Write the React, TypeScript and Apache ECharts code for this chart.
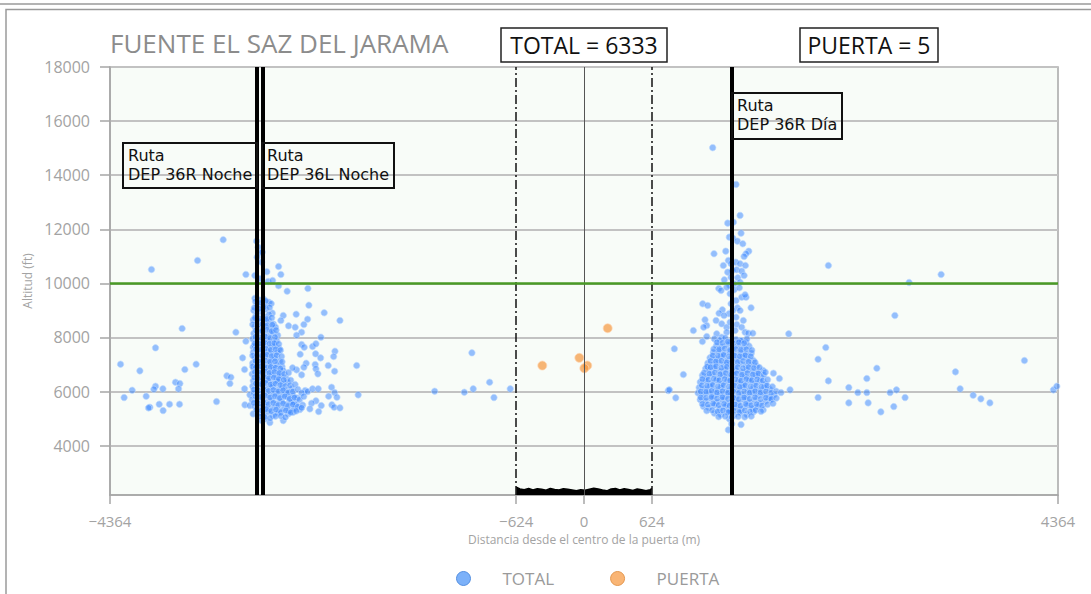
import React, { useEffect, useRef } from "react";
import * as echarts from "echarts";

// ---------- axes ----------
const X_MIN = -4364;
const X_MAX = 4364;
const X_TICKS = [-4364, -624, 0, 624, 4364];
const Y_MIN = 2176;
const Y_MAX = 18000;
const Y_TICKS = [4000, 6000, 8000, 10000, 12000, 14000, 16000, 18000];

// ---------- reference lines ----------
const ROUTES_X = [-3012, -2961, 1363];
const GATE_LIMITS = [-624, 624];
const GATE_CENTER = 0;
const ALT_LIMIT = 10000;

const TOTAL_COUNT = 6333;
const PUERTA_COUNT = 5;

// ---------- gate ground band (distance m, altitude ft) ----------
const BAND_X = [-624, -590, -550, -510, -470, -430, -390, -350, -310, -270, -230, -190, -150, -110, -70, -30, 10, 50, 90, 130, 170, 210, 250, 290, 330, 370, 410, 450, 490, 530, 570, 610, 624];
const BAND_Y = [2470, 2400, 2370, 2420, 2360, 2410, 2390, 2350, 2420, 2380, 2360, 2410, 2385, 2360, 2330, 2370, 2350, 2390, 2430, 2400, 2360, 2330, 2400, 2420, 2360, 2410, 2380, 2340, 2400, 2370, 2330, 2370, 2420];

// ---------- TOTAL points ----------
const LEFT_SPARSE: [number, number][] = [
  [-3322, 11613], [-3558, 10847], [-3982, 10514], [-3113, 10329], [-3700, 8331], [-3205, 8194],
  [-3945, 7617], [-3113, 7861], [-4267, 7010], [-4089, 6766], [-3675, 6814], [-3571, 7010],
  [-3143, 7247], [-3125, 6814], [-3288, 6581], [-3251, 6529], [-3260, 6296], [-3761, 6344],
  [-3721, 6296], [-3945, 6196], [-3960, 6085], [-3877, 6100], [-3733, 6100], [-4160, 6048],
  [-3125, 6100], [-4234, 5778], [-4031, 5826], [-3997, 5419], [-4009, 5397], [-3911, 5530],
  [-3816, 5530], [-3724, 5530], [-3875, 5297], [-3383, 5630], [-3122, 5508], [-3076, 5482],
  [-3076, 5878],
];

const LEFT_CLUSTER: [number, number][] = [
  [-3014, 11561], [-3000, 11339], [-2984, 11132], [-2963, 11154], [-3009, 10969], [-2968, 10784],
  [-2812, 10625], [-2920, 10429], [-2791, 10329], [-3030, 10292], [-2984, 10170], [-2908, 10070],
  [-2867, 10107], [-2812, 9911], [-2733, 9711], [-2542, 9811], [-2533, 9193], [-2392, 8912],
  [-2247, 8627], [-2650, 8860], [-2769, 8812], [-2791, 8627], [-2720, 8431], [-2659, 8379],
  [-2545, 8675], [-2579, 8479], [-2600, 8194], [-2646, 8083], [-2422, 8009], [-3046, 7639],
  [-2600, 7739], [-2576, 7639], [-2499, 7665], [-2468, 7765], [-2613, 7380], [-2471, 7395],
  [-2425, 7247], [-2293, 7491], [-2305, 7295], [-2355, 6962], [-2475, 6999], [-2558, 7047],
  [-2579, 6899], [-2646, 6803], [-2683, 6877], [-2600, 6618], [-2468, 6840], [-2450, 6655],
  [-2296, 6751], [-2093, 6962], [-2567, 6037], [-2545, 6000], [-2499, 6100], [-2447, 6100],
  [-2324, 6159], [-2296, 5963], [-2275, 5789], [-2351, 5826], [-2079, 5878], [-2468, 5656],
  [-2508, 5567], [-2419, 5482], [-2321, 5508], [-2300, 5419], [-2247, 5397], [-2443, 5260],
  [-2524, 5360], [-2616, 5334], [-2671, 5604], [-2677, 5234], [-2723, 5175], [-2769, 4927],
  [-2892, 4853], [-2938, 4990], [-2968, 4927], [-3046, 5175],
];

const LEFT_CORE_A: [number, number][] = [
  [-3030, 9450], [-2990, 9380], [-2950, 9420], [-2900, 9300], [-3010, 9200], [-2960, 9150],
  [-2880, 9250], [-3040, 9000], [-2985, 8950], [-2930, 9050], [-2870, 8900], [-3020, 8800],
  [-2945, 8760], [-2900, 8850], [-3045, 8650], [-2995, 8600], [-2950, 8550], [-2905, 8640],
  [-2860, 8500], [-3030, 8400], [-2980, 8350], [-2935, 8420], [-2890, 8300], [-2840, 8380],
  [-3040, 8150], [-2990, 8200], [-2950, 8100], [-2905, 8050], [-2860, 8180], [-2820, 8080],
  [-3050, 7950], [-3005, 7900], [-2960, 7850], [-2915, 7920], [-2870, 7800], [-2830, 7880],
  [-3035, 7700], [-2985, 7650], [-2940, 7720], [-2895, 7600], [-2850, 7680], [-2805, 7580],
  [-3045, 7450], [-3000, 7500], [-2955, 7400], [-2910, 7480], [-2865, 7380], [-2820, 7450],
  [-3030, 7250], [-2980, 7200], [-2935, 7300], [-2890, 7150], [-2845, 7230], [-2800, 7120],
  [-3050, 7050], [-3005, 7000], [-2960, 7080], [-2915, 6980], [-2870, 6950], [-2825, 7000],
  [-2780, 6920], [-3040, 6850], [-2995, 6800], [-2950, 6870], [-2905, 6750], [-2860, 6820],
  [-2815, 6700], [-2770, 6780], [-3055, 6650], [-3010, 6600], [-2965, 6680], [-2920, 6550],
  [-2875, 6620], [-2830, 6500], [-2785, 6580], [-2740, 6480], [-3045, 6400], [-3000, 6450],
  [-2955, 6350], [-2910, 6420], [-2865, 6300], [-2820, 6380], [-2775, 6280], [-2730, 6350],
  [-3050, 6200], [-3005, 6150], [-2960, 6250], [-2915, 6100], [-2870, 6180], [-2825, 6050],
  [-2780, 6130], [-2735, 6020], [-2690, 6100], [-3040, 5950], [-2995, 5900], [-2950, 5980],
  [-2905, 5850], [-2860, 5920], [-2815, 5800], [-2770, 5880], [-2725, 5780], [-2680, 5850],
  [-2640, 5760], [-3055, 5700], [-3010, 5650], [-2965, 5720], [-2920, 5600], [-2875, 5680],
  [-2830, 5550], [-2785, 5630], [-2740, 5520], [-2695, 5600], [-2650, 5500], [-3030, 5450],
  [-2985, 5400], [-2940, 5480], [-2895, 5350], [-2850, 5420], [-2805, 5300], [-2760, 5380],
  [-2715, 5280], [-2670, 5350], [-3000, 5200], [-2955, 5150], [-2910, 5250], [-2865, 5120],
  [-2820, 5200],
];

const LEFT_CORE_B: [number, number][] = [
  [-3025, 9330], [-2975, 9280], [-2930, 9350], [-3035, 9100], [-2990, 9060], [-2940, 9130],
  [-2895, 9110], [-3030, 8720], [-2985, 8700], [-2920, 8680], [-2875, 8730], [-3050, 8480],
  [-3005, 8460], [-2960, 8490], [-2915, 8450], [-2870, 8470], [-3020, 8260], [-2965, 8240],
  [-2920, 8280], [-2875, 8230], [-2835, 8270], [-3025, 8020], [-2980, 7990], [-2935, 8030],
  [-2890, 7980], [-2845, 8010], [-3030, 7780], [-2985, 7760], [-2940, 7800], [-2895, 7770],
  [-2850, 7790], [-2810, 7760], [-3020, 7570], [-2975, 7550], [-2930, 7580], [-2885, 7540],
  [-2840, 7560], [-2795, 7530], [-3050, 7330], [-3010, 7350], [-2965, 7320], [-2920, 7360],
  [-2875, 7310], [-2830, 7340], [-2785, 7300], [-3025, 7130], [-2980, 7110], [-2935, 7150],
  [-2890, 7100], [-2845, 7120], [-2780, 7100], [-3050, 6930], [-3020, 6900], [-2975, 6930],
  [-2930, 6890], [-2885, 6910], [-2840, 6880], [-2795, 6850], [-3030, 6720], [-2985, 6700],
  [-2940, 6740], [-2895, 6690], [-2850, 6720], [-2805, 6680], [-2760, 6650], [-2720, 6700],
  [-3035, 6520], [-2990, 6500], [-2945, 6540], [-2900, 6490], [-2855, 6520], [-2810, 6460],
  [-2765, 6430], [-2700, 6420], [-3020, 6300], [-2975, 6280], [-2930, 6320], [-2885, 6260],
  [-2840, 6290], [-2795, 6240], [-2750, 6200], [-2705, 6230], [-2660, 6260], [-3040, 6070],
  [-2995, 6040], [-2950, 6080], [-2905, 6020], [-2860, 6060], [-2815, 6000], [-2770, 6050],
  [-2725, 5960], [-2680, 6000], [-2635, 6080], [-2600, 5950], [-3025, 5830], [-2980, 5800],
  [-2935, 5850], [-2890, 5780], [-2845, 5830], [-2800, 5760], [-2755, 5820], [-2710, 5730],
  [-2665, 5780], [-2620, 5700], [-2580, 5820], [-3040, 5580], [-2995, 5560], [-2950, 5600],
  [-2905, 5530], [-2860, 5580], [-2815, 5500], [-2770, 5560], [-2725, 5470], [-2680, 5520],
  [-2635, 5440], [-2590, 5500], [-3015, 5330], [-2970, 5300], [-2925, 5350], [-2880, 5280],
  [-2835, 5330], [-2790, 5240], [-2745, 5300], [-2700, 5230], [-2650, 5280], [-2600, 5400],
  [-2990, 5080], [-2940, 5060], [-2890, 5020], [-2840, 5090], [-2790, 5100], [-2750, 5050],
];

const MID_SPARSE: [number, number][] = [
  [-1032, 7432], [-1375, 6011], [-1102, 5974], [-1020, 6100], [-869, 6344], [-829, 5778],
  [-679, 6100], [776, 6037], [786, 6063], [832, 7580], [845, 5767], [915, 6629],
];

const RIGHT_CLUSTER: [number, number][] = [
  [1185, 15017], [1400, 13659], [1437, 12512], [1323, 12227], [1375, 12264], [1338, 11709],
  [1370, 11672], [1446, 11857], [1412, 11561], [1462, 11465], [1197, 11095], [1305, 11191],
  [1517, 11191], [1492, 11095], [1474, 10995], [1329, 10847], [1283, 10662], [1354, 10725],
  [1397, 10784], [1437, 10725], [1486, 10662], [1366, 10477], [1406, 10503], [1452, 10451],
  [1323, 10414], [1292, 10133], [1354, 10229], [1416, 10207], [1474, 10292], [1437, 10044],
  [1382, 9985], [1342, 9922], [1241, 9811], [1262, 9737], [1314, 9859], [1382, 9763],
  [1430, 9837], [1452, 9489], [1492, 9489], [1483, 9578], [1345, 9615], [1400, 9367],
  [1354, 9245], [1412, 9097], [1370, 8997], [1437, 8997], [1335, 8875], [1400, 8749],
  [1538, 9097], [1274, 9023], [1243, 8897], [1289, 8812], [1114, 8653], [1130, 8442],
  [1102, 8379], [1216, 8627], [1268, 8505], [1314, 8379], [1345, 8564], [1406, 8479],
  [1452, 8379], [1391, 8257], [1467, 8627], [1007, 8257], [1090, 7850], [1130, 8035],
  [1222, 8135], [1268, 8009], [1314, 8194], [1483, 8194], [1513, 8157], [1554, 8157],
  [1437, 7887], [1492, 7824], [1093, 9245], [1139, 9182],
];

const RIGHT_CORE_A: [number, number][] = [
  [1200, 7950], [1250, 7900], [1300, 7980], [1350, 7850], [1400, 7920], [1450, 7880],
  [1500, 7950], [1220, 7700], [1270, 7650], [1320, 7750], [1370, 7600], [1420, 7700],
  [1470, 7620], [1520, 7680], [1190, 7450], [1240, 7500], [1290, 7400], [1340, 7480],
  [1390, 7350], [1440, 7450], [1490, 7380], [1540, 7420], [1160, 7250], [1210, 7200],
  [1260, 7300], [1310, 7150], [1360, 7250], [1410, 7180], [1460, 7280], [1510, 7200],
  [1560, 7150], [1140, 7050], [1190, 7000], [1240, 7080], [1290, 6980], [1340, 7020],
  [1390, 6950], [1440, 7030], [1490, 6970], [1540, 7000], [1590, 6940], [1120, 6850],
  [1150, 6800], [1200, 6870], [1250, 6750], [1300, 6820], [1350, 6700], [1400, 6780],
  [1450, 6720], [1500, 6800], [1550, 6750], [1600, 6700], [1650, 6780], [1090, 6600],
  [1130, 6550], [1180, 6650], [1230, 6500], [1280, 6600], [1330, 6520], [1380, 6620],
  [1430, 6480], [1480, 6560], [1530, 6500], [1580, 6600], [1630, 6520], [1070, 6350],
  [1120, 6400], [1170, 6300], [1220, 6420], [1270, 6280], [1320, 6380], [1370, 6250],
  [1420, 6350], [1470, 6270], [1520, 6400], [1570, 6300], [1620, 6380], [1670, 6270],
  [1060, 6150], [1110, 6100], [1160, 6200], [1210, 6050], [1260, 6150], [1310, 6020],
  [1360, 6120], [1410, 6060], [1460, 6180], [1510, 6040], [1560, 6130], [1610, 6050],
  [1660, 6150], [1710, 6080], [1050, 5950], [1100, 5900], [1150, 5980], [1200, 5850],
  [1250, 5920], [1300, 5800], [1350, 5880], [1400, 5780], [1450, 5900], [1500, 5820],
  [1550, 5950], [1600, 5850], [1650, 5900], [1700, 5800], [1750, 5880], [1070, 5700],
  [1120, 5650], [1170, 5750], [1220, 5600], [1270, 5700], [1320, 5550], [1370, 5650],
  [1420, 5580], [1470, 5700], [1520, 5600], [1570, 5680], [1620, 5560], [1670, 5640],
  [1720, 5700], [1100, 5450], [1150, 5400], [1200, 5500], [1250, 5350], [1300, 5450],
  [1350, 5300], [1400, 5420], [1450, 5350], [1500, 5480], [1550, 5380], [1600, 5450],
  [1650, 5320], [1200, 5200], [1260, 5150], [1320, 5250], [1380, 5120], [1440, 5220],
  [1500, 5150], [1560, 5250], [1338, 4990], [1360, 4804], [1329, 4583], [1446, 4779],
];

const RIGHT_CORE_B: [number, number][] = [
  [1225, 7820], [1275, 7800], [1325, 7840], [1375, 7780], [1425, 7820], [1475, 7790],
  [1195, 7570], [1245, 7560], [1295, 7590], [1345, 7540], [1395, 7570], [1445, 7540],
  [1495, 7560], [1545, 7530], [1185, 7330], [1235, 7320], [1285, 7350], [1335, 7300],
  [1385, 7330], [1435, 7300], [1485, 7340], [1535, 7300], [1165, 7130], [1215, 7110],
  [1265, 7140], [1315, 7080], [1365, 7120], [1415, 7090], [1465, 7130], [1515, 7100],
  [1575, 7080], [1135, 6920], [1165, 6900], [1215, 6930], [1265, 6880], [1315, 6910],
  [1365, 6870], [1415, 6900], [1465, 6860], [1515, 6900], [1565, 6870], [1615, 6890],
  [1105, 6690], [1155, 6660], [1205, 6700], [1255, 6640], [1305, 6680], [1355, 6620],
  [1405, 6670], [1455, 6620], [1505, 6680], [1555, 6630], [1605, 6670], [1655, 6620],
  [1090, 6460], [1145, 6440], [1195, 6470], [1245, 6420], [1295, 6460], [1345, 6410],
  [1395, 6450], [1445, 6400], [1495, 6460], [1545, 6420], [1595, 6450], [1645, 6410],
  [1690, 6440], [1085, 6230], [1135, 6210], [1185, 6240], [1235, 6190], [1285, 6230],
  [1335, 6180], [1385, 6220], [1435, 6170], [1485, 6230], [1535, 6190], [1585, 6220],
  [1635, 6180], [1685, 6220], [1735, 6180], [1075, 6000], [1125, 5990], [1175, 6020],
  [1225, 5970], [1275, 6010], [1325, 5960], [1375, 6000], [1425, 5950], [1475, 6000],
  [1525, 5960], [1575, 6010], [1625, 5970], [1675, 6000], [1725, 5960], [1770, 6010],
  [1075, 5780], [1125, 5770], [1175, 5800], [1225, 5740], [1275, 5790], [1325, 5730],
  [1375, 5770], [1425, 5720], [1475, 5780], [1525, 5730], [1575, 5790], [1625, 5720],
  [1675, 5770], [1725, 5730], [1770, 5760], [1090, 5540], [1140, 5520], [1190, 5560],
  [1240, 5500], [1290, 5540], [1340, 5480], [1390, 5520], [1440, 5470], [1490, 5540],
  [1540, 5490], [1590, 5530], [1640, 5480], [1690, 5520], [1740, 5560], [1130, 5290],
  [1180, 5310], [1230, 5260], [1280, 5300], [1330, 5240], [1380, 5290], [1430, 5250],
  [1480, 5300], [1530, 5260], [1580, 5310], [1630, 5270], [1240, 5070], [1300, 5090],
  [1360, 5050], [1420, 5080], [1480, 5060], [1540, 5090],
];

const RIGHT_SPARSE: [number, number][] = [
  [2250, 10662], [3288, 10329], [2993, 10033], [2862, 8812], [1885, 8135], [2226, 7628],
  [2155, 7196], [2696, 6862], [3420, 6729], [4055, 7147], [2250, 6395], [2604, 6481],
  [1799, 6481], [1744, 6677], [1670, 6714], [1897, 6063], [1814, 5963], [2438, 6148],
  [2521, 5963], [2604, 5963], [2818, 5963], [2877, 6063], [3463, 6100], [2155, 5778],
  [2438, 5582], [2616, 5582], [2956, 5778], [2852, 5445], [2733, 5249], [3583, 5863],
  [3654, 5730], [3737, 5582], [4322, 6063], [4353, 6196],
];

const TOTAL = [
  ...LEFT_SPARSE, ...LEFT_CLUSTER, ...LEFT_CORE_A, ...LEFT_CORE_B, ...MID_SPARSE,
  ...RIGHT_CLUSTER, ...RIGHT_CORE_A, ...RIGHT_CORE_B, ...RIGHT_SPARSE,
];

// ---------- PUERTA points ----------
const PUERTA: [number, number][] = [
  [218, 8342], [-384, 6962], [-43, 7247], [30, 6962], [3, 6862],
];

const GRAY = "#a3a3a3";
const LABEL_FONT = "Open Sans";
const ANNOT_FONT = "DejaVu Sans";

const fmtX = (v: number) => (v < 0 ? "\u2212" + Math.abs(v) : String(v));

function annotation(x: number, y: number, w: number, h: number, text: string) {
  return [
    {
      type: "rect",
      shape: { x, y, width: w, height: h },
      style: { fill: "none", stroke: "#111", lineWidth: 2 },
      z: 100,
    },
    {
      type: "text",
      x: x + 5,
      y: y + 3,
      style: {
        text,
        fontFamily: ANNOT_FONT,
        fontSize: 16,
        lineHeight: 19,
        fill: "#111",
        verticalAlign: "top",
      },
      z: 101,
    },
  ];
}

export default function App() {
  const ref = useRef<HTMLDivElement>(null);

  useEffect(() => {
    if (!ref.current) return;
    const chart = echarts.init(ref.current, null, { renderer: "svg" });

    const routeLines = ROUTES_X.map((x) => ({
      xAxis: x,
      lineStyle: { color: "#000", width: 4, type: "solid" },
    }));
    const gateLines = GATE_LIMITS.map((x) => ({
      xAxis: x,
      lineStyle: { color: "#111", width: 1.5, type: [9, 3, 2, 3] },
    }));

    const option: any = {
      animation: false,
      backgroundColor: "#ffffff",
      grid: {
        left: 110,
        right: 33,
        top: 67,
        bottom: 99,
        show: true,
        backgroundColor: "#f8fcf8",
        borderColor: "#a6a6a6",
        borderWidth: 1.5,
      },
      xAxis: {
        type: "value",
        min: X_MIN,
        max: X_MAX,
        name: "Distancia desde el centro de la puerta (m)",
        nameLocation: "middle",
        nameGap: 38,
        nameTextStyle: { color: GRAY, fontSize: 12, fontFamily: LABEL_FONT },
        axisLine: { show: true, onZero: false, lineStyle: { color: "#a6a6a6", width: 1.5 } },
        axisTick: { show: true, length: 9, customValues: X_TICKS, lineStyle: { color: "#a6a6a6", width: 1.5 } },
        axisLabel: {
          customValues: X_TICKS,
          formatter: fmtX,
          color: GRAY,
          fontSize: 15,
          fontFamily: LABEL_FONT,
          margin: 18,
        },
        splitLine: { show: false },
      },
      yAxis: {
        type: "value",
        min: Y_MIN,
        max: Y_MAX,
        name: "Altitud (ft)",
        nameLocation: "middle",
        nameGap: 56,
        nameTextStyle: { color: GRAY, fontSize: 12, fontFamily: LABEL_FONT },
        axisLine: { show: true, onZero: false, lineStyle: { color: "#a6a6a6", width: 1.5 } },
        axisTick: { show: true, length: 10, customValues: Y_TICKS, lineStyle: { color: "#a6a6a6", width: 1.5 } },
        axisLabel: {
          customValues: Y_TICKS,
          formatter: (v: number) => String(v),
          color: GRAY,
          fontSize: 16,
          fontFamily: LABEL_FONT,
          margin: 20,
        },
        splitLine: { show: true, lineStyle: { color: "#c2c2c2", width: 2 } },
      },
      legend: {
        data: [
          { name: "TOTAL", itemStyle: { color: "#5b9df7", borderColor: "#3f7fd9", borderWidth: 1 } },
          { name: "PUERTA", itemStyle: { color: "#f7a352", borderColor: "#dd8a3a", borderWidth: 1 } },
        ],
        left: 451,
        top: 565,
        icon: "circle",
        itemWidth: 14,
        itemHeight: 14,
        itemGap: 56,
        textStyle: { color: "#9a9a9a", fontSize: 17, fontFamily: LABEL_FONT, padding: [0, 0, 0, 27] },
      },
      series: [
        {
          name: "band",
          type: "line",
          data: BAND_X.map((x, i) => [x, BAND_Y[i]]),
          symbol: "none",
          silent: true,
          lineStyle: { color: "#000", width: 1.5 },
          areaStyle: { color: "#000", opacity: 1, origin: "start" },
          markLine: {
            silent: true,
            symbol: ["none", "none"],
            label: { show: false },
            data: [
              ...gateLines,
              { xAxis: GATE_CENTER, lineStyle: { color: "#555", width: 1, type: "solid" } },
              { yAxis: ALT_LIMIT, lineStyle: { color: "#4a9a26", width: 2.5, type: "solid" } },
            ],
          },
          z: 2,
        },
        {
          name: "TOTAL",
          type: "scatter",
          data: TOTAL,
          symbolSize: 6.5,
          itemStyle: {
            color: "rgba(62,138,255,0.68)",
            borderColor: "rgba(190,218,255,0.8)",
            borderWidth: 1,
          },
          z: 3,
        },
        {
          name: "PUERTA",
          type: "scatter",
          data: PUERTA,
          symbolSize: 9,
          itemStyle: {
            color: "rgba(245,152,62,0.88)",
            borderColor: "rgba(255,215,180,0.9)",
            borderWidth: 1,
          },
          z: 4,
        },
        {
          name: "routes",
          type: "scatter",
          data: [],
          silent: true,
          markLine: {
            silent: true,
            symbol: ["none", "none"],
            label: { show: false },
            data: routeLines,
          },
          z: 5,
        },
      ],
      graphic: [
        { type: "line", shape: { x1: 0, y1: 4, x2: 1091, y2: 4 }, style: { stroke: "#9a9a9a", lineWidth: 1.5 }, z: 100 },
        { type: "rect", shape: { x: 6, y: 9.5, width: 1100, height: 600 }, style: { fill: "none", stroke: "#9a9a9a", lineWidth: 1.5 }, z: 100 },
        {
          type: "text",
          x: 110,
          y: 43,
          style: {
            text: "FUENTE EL SAZ DEL JARAMA",
            fontFamily: LABEL_FONT,
            fontSize: 26,
            fill: "#8c8c8c",
            verticalAlign: "middle",
          },
          z: 100,
        },
        { type: "rect", shape: { x: 501, y: 28, width: 166, height: 34 }, style: { fill: "#fff", stroke: "#222", lineWidth: 1.5 }, z: 100 },
        {
          type: "text",
          x: 584,
          y: 45,
          style: { text: `TOTAL = ${TOTAL_COUNT}`, fontFamily: LABEL_FONT, fontSize: 23, fill: "#111", align: "center", verticalAlign: "middle" },
          z: 101,
        },
        { type: "rect", shape: { x: 800, y: 28, width: 138, height: 34 }, style: { fill: "#fff", stroke: "#222", lineWidth: 1.5 }, z: 100 },
        {
          type: "text",
          x: 869,
          y: 45,
          style: { text: `PUERTA = ${PUERTA_COUNT}`, fontFamily: LABEL_FONT, fontSize: 23, fill: "#111", align: "center", verticalAlign: "middle" },
          z: 101,
        },
        ...annotation(123, 143, 134, 45, "Ruta\nDEP 36R Noche"),
        ...annotation(262, 143, 132, 45, "Ruta\nDEP 36L Noche"),
        ...annotation(732, 93, 110, 46, "Ruta\nDEP 36R Día"),
      ],
    };

    chart.setOption(option);
    return () => chart.dispose();
  }, []);

  return (
    <div
      ref={ref}
      style={{ position: "fixed", left: 0, top: 0, width: 1091, height: 594 }}
    />
  );
}
